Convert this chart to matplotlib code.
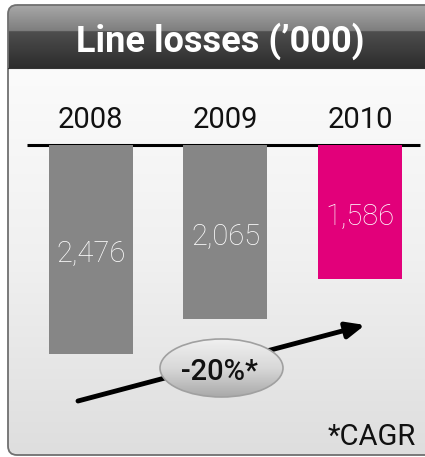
import numpy as np
import matplotlib
matplotlib.use("Agg")
import matplotlib.pyplot as plt
from matplotlib.patches import FancyBboxPatch, Ellipse, FancyArrowPatch
import matplotlib.transforms as mtransforms
from matplotlib.colors import LinearSegmentedColormap

# ---- data ----
years = ["2008", "2009", "2010"]
losses = [2476, 2065, 1586]
value_labels = ["2,476", "2,065", "1,586"]
bar_colors = ["#868686", "#868686", "#e2007a"]
title = "Line losses (\u2019000)"
cagr_label = "-20%*"
footnote = "*CAGR"

FONT = ["Roboto", "DejaVu Sans"]

W, H = 425, 457
fig = plt.figure(figsize=(W / 100, H / 100), dpi=100)
fig.patch.set_facecolor("white")

bg = fig.add_axes([0, 0, 1, 1])
bg.set_xlim(0, W)
bg.set_ylim(H, 0)
bg.axis("off")

# panel
px0, py0, pw, ph = 8, 5, 432, 450
hdr_bottom = 68
panel = FancyBboxPatch((px0, py0), pw, ph, boxstyle="round,pad=0,rounding_size=9",
                       facecolor="none", edgecolor="none", transform=bg.transData)
bg.add_patch(panel)

body_cmap = LinearSegmentedColormap.from_list("body", ["#fbfbfb", "#f0f0f0", "#dedede"])
grad = np.linspace(0, 1, 256).reshape(-1, 1)
im = bg.imshow(grad, cmap=body_cmap, aspect="auto",
               extent=(px0, px0 + pw, py0 + ph, hdr_bottom), zorder=1)
im.set_clip_path(panel)

hdr_cmap = LinearSegmentedColormap.from_list(
    "hdr", [(0.0, "#a8a8a8"), (0.41, "#7e7e7e"), (0.42, "#4e4e4e"), (1.0, "#2c2c2c")])
im2 = bg.imshow(grad, cmap=hdr_cmap, aspect="auto",
                extent=(px0, px0 + pw, hdr_bottom, py0), zorder=1)
im2.set_clip_path(panel)

border = FancyBboxPatch((px0, py0), pw, ph, boxstyle="round,pad=0,rounding_size=9",
                        facecolor="none", edgecolor="#707070", linewidth=1.3, zorder=2)
bg.add_patch(border)
bg.plot([px0, px0 + pw], [hdr_bottom, hdr_bottom], color="#333333", lw=0.8, zorder=2)

bg.text(220, 52, title, color="white", fontsize=26, fontweight="bold",
        family=FONT, ha="center", va="baseline", zorder=3)

# baseline line
bg.plot([27, 420], [144.5, 144.5], color="black", lw=2.2, zorder=6, solid_capstyle="butt")

# ---- bars (hanging from the baseline) ----
k = 0.0846          # pixels per unit
c0, step = 90.8, 134.65
ax = fig.add_axes([px0 / W, (H - 455) / H, (W - px0) / W, (455 - 144.5) / H])
ax.set_xlim((px0 - c0) / step, (W - c0) / step)
ax.set_ylim((455 - 144.5) / k, 0)
ax.patch.set_alpha(0)
ax.axis("off")
x = np.arange(len(years))
ax.bar(x, losses, width=84 / step, color=bar_colors, align="center", zorder=3)

blend = mtransforms.blended_transform_factory(ax.transData, bg.transData)
for i, (yr, v, lab) in enumerate(zip(years, losses, value_labels)):
    ax.text(i, 128, yr, transform=blend, ha="center", va="baseline",
            fontsize=21, family=FONT, color="#111111")
    ax.annotate(lab, xy=(i, v / 2), xytext=(0, -9.5), textcoords="offset points",
                ha="center", va="baseline", fontsize=21, fontweight="light",
                family=FONT, color="white")

# ---- CAGR arrow and ellipse ----
arr = FancyArrowPatch((78, 401), (365, 325), transform=bg.transData,
                      arrowstyle="-|>,head_length=0.55,head_width=0.24",
                      mutation_scale=20, color="black", lw=3.5, zorder=7,
                      shrinkA=0, shrinkB=0)
bg.add_patch(arr)

ell = Ellipse((221.5, 368), 123, 58, facecolor="none", edgecolor="none", transform=bg.transData)
bg.add_patch(ell)
ell_cmap = LinearSegmentedColormap.from_list("ell", ["#f0f0f0", "#d8d8d8", "#a9a9a9"])
im3 = bg.imshow(grad, cmap=ell_cmap, aspect="auto",
                extent=(160, 283, 397, 339), zorder=8)
im3.set_clip_path(ell)
ell_edge = Ellipse((221.5, 368), 123, 58, facecolor="none", edgecolor="#a0a0a0",
                   lw=1.2, zorder=9)
bg.add_patch(ell_edge)
bg.text(220, 380, cagr_label, ha="center", va="baseline", fontsize=21,
        fontweight="medium", family=FONT, color="#111111", zorder=10)

bg.text(416, 445, footnote, ha="right", va="baseline", fontsize=21,
        family=FONT, color="#111111", zorder=10)

fig.savefig("out.png", dpi=100)
